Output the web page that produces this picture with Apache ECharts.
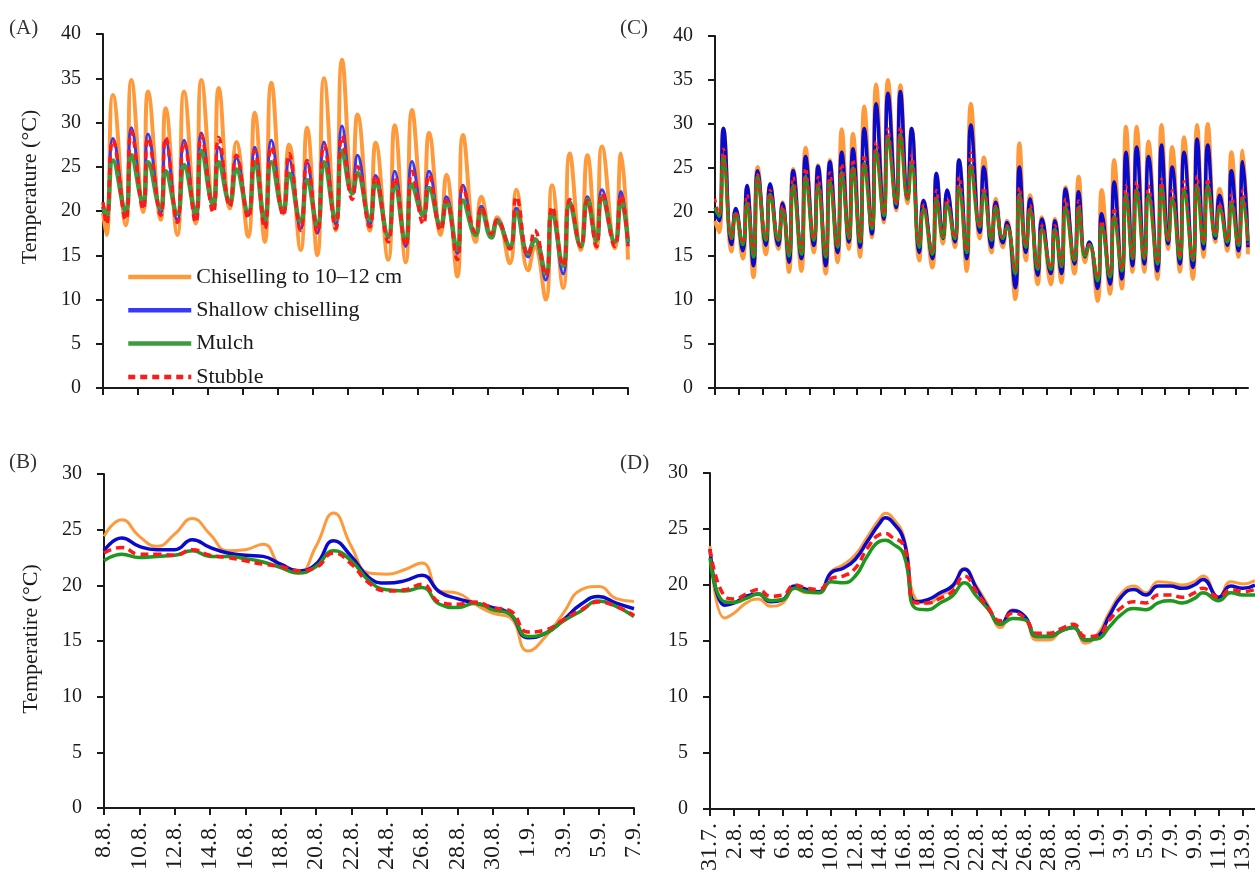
<!DOCTYPE html>
<html>
<head>
<meta charset="utf-8">
<title>Soil temperature under four tillage treatments</title>
<script src="https://cdn.jsdelivr.net/npm/echarts@6/dist/echarts.min.js"></script>
<style>
  html, body { margin: 0; padding: 0; background: #fff; }
  #chart { width: 1255px; height: 879px; }
</style>
</head>
<body>
<div id="chart"></div>
<script>
const names = ['Chiselling to 10–12 cm', 'Shallow chiselling', 'Mulch', 'Stubble'];

// (A) diurnal course, days after 8.8. (daily minima and maxima)
const aTime = [0,
  0.2, 0.57, 1.3, 1.62, 2.3, 2.57, 3.3, 3.58, 4.25, 4.63,
  5.3, 5.62, 6.3, 6.61, 7.25, 7.62, 8.3, 8.67, 9.25, 9.62,
  10.3, 10.63, 11.3, 11.66, 12.25, 12.63, 13.3, 13.66, 14.25, 14.54,
  15.25, 15.58, 16.3, 16.67, 17.3, 17.66, 18.3, 18.63, 19.3, 19.62,
  20.25, 20.57, 21.3, 21.62, 22.2, 22.52, 23.25, 23.62, 24.3, 24.67,
  25.3, 25.66, 26.3, 26.67, 27.3, 27.68, 28.2, 28.51, 29.25, 29.6,
  30];
const aChisel = [19.8,
  17.3, 33.1, 18.4, 34.8, 19.9, 33.5, 19.0, 31.6, 17.3, 33.5,
  18.6, 34.8, 20.5, 33.9, 20.3, 27.8, 17.1, 31.1, 16.5, 34.5,
  19.7, 27.5, 15.6, 29.4, 15.0, 35.0, 17.8, 37.1, 22.6, 30.9,
  17.8, 27.7, 14.5, 29.7, 14.2, 31.4, 19.5, 28.8, 17.3, 24.1,
  12.6, 28.6, 16.5, 21.6, 17.3, 19.3, 14.1, 22.4, 13.3, 16.0,
  10.0, 22.9, 11.3, 26.5, 15.6, 26.3, 15.8, 27.3, 15.8, 26.5,
  14.5];
const aShallow = [20.3,
  19, 28.2, 19.7, 29.4, 20.5, 28.7, 19.8, 28, 18.9, 28,
  19.2, 28.8, 21, 27.2, 20.8, 26, 19.5, 27.2, 18.5, 28,
  19.8, 25.8, 18, 25.5, 17.5, 27.8, 18.5, 29.6, 22, 26.3,
  18.5, 24, 17, 24.5, 16, 25.6, 19.5, 24.5, 18.3, 21.6,
  15.2, 22.9, 17.3, 20.5, 17, 19, 16, 20.3, 14.8, 16.7,
  12.2, 19.8, 12.9, 21.1, 16, 21.6, 16.7, 22.4, 16.5, 22.2,
  16.3];
const aMulch = [20.5,
  19.5, 25.7, 20, 26.3, 21, 25.5, 20.3, 24.5, 19.7, 25.2,
  19.8, 26.8, 20.7, 25.5, 21, 24.7, 19.8, 25.5, 19, 25.5,
  20, 24.2, 18.8, 23.5, 18.3, 25.5, 19, 26.8, 22, 24.3,
  19, 23.2, 17.2, 23, 16.5, 23, 19.5, 22.6, 18.3, 21,
  15.6, 21.2, 17.3, 20.1, 17, 18.8, 16, 19.9, 15.2, 16.8,
  12.9, 19.9, 13.8, 20.9, 16, 21.3, 16.7, 21.6, 16.5, 21.3,
  16.5];
const aStubble = [21,
  18.5, 28, 19, 29, 20.2, 28.3, 19.5, 28.3, 18.7, 27.8,
  18.7, 28.6, 19.8, 28.3, 20.5, 26.3, 19.2, 26.8, 18, 27.3,
  19.5, 26.5, 17.8, 25.7, 17.5, 27.5, 18, 28.5, 21.3, 25,
  18.2, 24, 16.5, 23.8, 16, 24.5, 18.5, 24.1, 17.8, 21.2,
  14.5, 22.7, 17.6, 20.5, 17.4, 19, 15.7, 21.6, 15, 17.8,
  12.7, 20.5, 13.8, 21.3, 16, 21.2, 16, 22, 16, 21.8,
  16];

// (B) daily means, days after 8.8.
const bDays = [0, 1, 2, 3, 4, 5, 6, 7, 8, 9, 10, 11, 12, 13, 14, 15, 16, 17, 18, 19, 20, 21, 22, 23, 24, 25, 26, 27, 28, 29, 30];
const bChisel = [24.4, 25.9, 24.4, 23.5, 24.6, 26, 24.6, 23.1, 23.2, 23.7, 21.7, 21.1, 23.5, 26.5, 23.5, 21.1, 21, 21.4, 22, 19.5, 19.3, 18.3, 17.5, 17.1, 14.1, 15.4, 17.5, 19.6, 19.9, 18.8, 18.55];
const bShallow = [23.1, 24.25, 23.5, 23.2, 23.2, 24.1, 23.4, 22.9, 22.7, 22.6, 21.9, 21.3, 21.9, 24, 22.6, 20.7, 20.2, 20.4, 20.9, 19.4, 18.8, 18.4, 18, 17.4, 15.3, 15.7, 16.9, 18.3, 19, 18.4, 17.9];
const bMulch = [22.2, 22.8, 22.5, 22.6, 22.7, 23.1, 22.6, 22.6, 22.4, 22.1, 21.6, 21.1, 21.7, 23.1, 22.2, 20.4, 19.6, 19.5, 19.8, 18.3, 18, 18.4, 17.8, 17.4, 15.4, 15.7, 16.8, 17.7, 18.6, 18.1, 17.2];
const bStubble = [22.9, 23.4, 22.8, 22.8, 22.7, 23.2, 22.7, 22.5, 22.2, 21.9, 21.7, 21.3, 21.6, 22.9, 21.9, 20.2, 19.5, 19.6, 20.1, 18.5, 18.3, 18.5, 18, 17.7, 15.8, 16, 16.9, 17.8, 18.5, 18.1, 17.3];
const bLabels = ['8.8.', '10.8.', '12.8.', '14.8.', '16.8.', '18.8.', '20.8.', '22.8.', '24.8.', '26.8.', '28.8.', '30.8.', '1.9.', '3.9.', '5.9.', '7.9.'];

// (C) diurnal course, days after 31.7. (daily minima and maxima)
const cTime = [0,
  0.35, 0.71, 1.4, 1.75, 2.35, 2.7, 3.25, 3.6, 4.3, 4.65,
  5.35, 5.7, 6.25, 6.6, 7.3, 7.65, 8.35, 8.7, 9.35, 9.7,
  10.35, 10.7, 11.3, 11.65, 12.25, 12.6, 13.25, 13.6, 14.25, 14.6,
  15.3, 15.65, 16.25, 16.6, 17.25, 17.6, 18.35, 18.7, 19.25, 19.6,
  20.25, 20.6, 21.25, 21.6, 22.35, 22.7, 23.35, 23.7, 24.3, 24.65,
  25.35, 25.7, 26.25, 26.6, 27.25, 27.6, 28.35, 28.7, 29.25, 29.6,
  30.35, 30.7, 31.25, 31.6, 32.3, 32.65, 33.35, 33.7, 34.35, 34.7,
  35.25, 35.6, 36.25, 36.6, 37.35, 37.7, 38.25, 38.6, 39.25, 39.6,
  40.35, 40.7, 41.25, 41.6, 42.25, 42.6, 43.25, 43.6, 44.2, 44.55,
  45];
const cChisel = [19,
  17.7, 29.5, 15.5, 20.3, 14.7, 22.8, 12.6, 25.1, 15.2, 23,
  15.8, 21.1, 13.2, 24.9, 13.3, 27.3, 15.4, 25.3, 13, 25.9,
  14.3, 29.4, 15.8, 28.9, 14.9, 32, 17.1, 34.5, 18.8, 35,
  20.2, 34.4, 21, 29.5, 14.5, 21.3, 13.7, 24.3, 16.4, 22.3,
  16, 25.9, 13.3, 32.3, 17, 26.2, 15.4, 21.5, 16, 19,
  10.1, 27.8, 14.5, 21.9, 11.8, 19.4, 11.8, 19.2, 12, 22.8,
  13, 24, 14.3, 16.5, 9.9, 22.5, 10.7, 25.9, 11.3, 29.7,
  13.2, 29.7, 13.2, 28, 12.4, 29.9, 15.8, 27.4, 13.2, 28.5,
  12.4, 29.9, 14.9, 30, 16.6, 22.6, 15.6, 26.8, 14.9, 27,
  15.2];
const cShallow = [20,
  19, 29.5, 16.3, 20.4, 15.6, 23, 13.9, 24.7, 16.2, 23.2,
  16.2, 21, 14.3, 24.7, 14.7, 26.3, 16.2, 25.2, 13.9, 25.7,
  15.4, 26.8, 16.6, 27.2, 16, 29.5, 17.5, 32.3, 19.2, 33.5,
  20.5, 33.7, 21.5, 29.5, 15.4, 21.3, 14.7, 24.4, 17, 22.5,
  16.6, 25.9, 14.7, 29.9, 17.7, 25.1, 16, 21.1, 16.5, 18.8,
  11.4, 25.1, 15.4, 21.5, 12.8, 19.2, 13, 19, 13, 22.6,
  14.1, 22.3, 14.9, 16.6, 11.3, 19.8, 11.8, 23.4, 12.4, 26.8,
  13.9, 27.4, 14.1, 26.3, 13.3, 27.6, 16.4, 25.1, 14.1, 26.8,
  13.7, 28.3, 15.8, 27.6, 17, 21.9, 16.2, 24.7, 15.6, 25.7,
  16];
const cMulch = [20.5,
  19.5, 26.3, 17, 19.8, 16.3, 21, 14.9, 24, 16.8, 22,
  16.8, 20.3, 15, 23, 15.2, 24, 16.8, 23, 14.9, 23.5,
  16, 24.5, 17, 25, 16.6, 25.5, 18.1, 27, 19.6, 28.5,
  20.9, 28.8, 21.5, 25.5, 16, 20.3, 15.2, 21.5, 17.1, 20.8,
  17, 22.8, 15.4, 25.3, 18.3, 22.1, 16.8, 20.5, 17, 18.3,
  13, 22, 16, 20.3, 13.5, 18, 13.5, 18, 13.8, 20.5,
  14.5, 20.5, 15, 16.3, 12.2, 18.5, 12.6, 19.5, 13.3, 22,
  14.7, 22.5, 14.7, 22, 14.1, 23, 16.8, 21.5, 14.7, 22.5,
  14.5, 23, 16.4, 23, 17.3, 20.5, 16.6, 21, 16.2, 21.5,
  16.7];
const cStubble = [21.5,
  19.8, 27.2, 17, 20, 16.5, 22, 15.4, 24.3, 17.1, 22.5,
  17, 20.7, 15.4, 24, 15.6, 25, 17, 24, 15.2, 24.5,
  16.2, 25.5, 17.2, 26, 16.8, 26.5, 18.3, 28, 19.8, 29.5,
  20.9, 29.7, 21.5, 26.5, 16.4, 20.8, 15.4, 22.5, 17.3, 21.5,
  17.1, 24, 15.6, 26.8, 18.3, 22.8, 17, 20.7, 17.1, 18.5,
  13.3, 22.8, 16.2, 20.8, 13.7, 18.5, 13.7, 18.5, 14, 21.5,
  14.7, 21.3, 15.3, 16.3, 12.6, 19, 13, 20.5, 13.5, 23,
  14.9, 23.5, 14.9, 23, 14.3, 23.8, 16.8, 22.5, 14.9, 23.5,
  14.7, 24.1, 16.6, 23.8, 17.5, 21, 16.8, 22, 16.4, 22.5,
  16.3];

// (D) daily means, days after 31.7.
const dDays = [0, 1.2, 2, 3, 4, 5, 6, 7, 8, 9, 10, 11, 12, 13, 14, 14.5, 15, 16, 17, 18, 19, 20, 21, 22, 23, 24, 25, 26, 27, 28, 29, 30, 31, 32, 33, 34, 35, 36, 37, 38, 39, 40, 40.7, 42, 43, 44, 45];
const dChisel = [23.5, 17.05, 17.5, 18.4, 18.75, 18.1, 18.4, 19.7, 19.3, 19.3, 21.2, 21.8, 22.7, 24.3, 25.9, 26.4, 26.1, 24.3, 18.7, 18.4, 19.1, 19.7, 21.5, 19.9, 18.1, 16.2, 17.8, 17.05, 15.1, 15.1, 15.9, 16.3, 14.8, 15.6, 17.6, 19.3, 19.9, 19.3, 20.3, 20.2, 20, 20.3, 20.8, 18.9, 20.3, 20.1, 20.4];
const dShallow = [23.2, 18.2, 18.4, 19, 19.2, 18.5, 18.7, 19.9, 19.6, 19.4, 21.1, 21.5, 22.3, 23.9, 25.5, 26, 25.7, 24, 18.5, 18.7, 19.3, 19.9, 21.4, 19.7, 17.9, 16.5, 17.7, 17.2, 15.4, 15.4, 15.9, 16.2, 15.1, 15.4, 17.3, 19, 19.6, 19.1, 19.9, 19.9, 19.7, 20, 20.5, 18.9, 19.9, 19.7, 20];
const dMulch = [22.4, 18.5, 18.45, 18.8, 19.2, 18.6, 18.7, 19.7, 19.4, 19.3, 20.3, 20.2, 20.8, 22.6, 23.9, 24, 23.75, 22.7, 17.9, 17.8, 18.4, 19, 20.2, 19, 17.8, 16.5, 17, 16.9, 15.4, 15.4, 15.9, 16.2, 15.1, 15.2, 16.3, 17.4, 17.9, 17.8, 18.4, 18.6, 18.4, 18.8, 19.3, 18.6, 19.3, 19.1, 19.1];
const dStubble = [23.2, 19, 18.75, 19.2, 19.6, 19, 19.1, 20, 19.7, 19.6, 20.6, 20.8, 21.5, 23.3, 24.5, 24.6, 24.3, 23.5, 18.4, 18.4, 18.8, 19.4, 20.8, 19.4, 17.9, 16.8, 17.5, 17.05, 15.7, 15.7, 16.1, 16.5, 15.4, 15.5, 16.9, 18, 18.5, 18.4, 19.1, 19.1, 18.9, 19.3, 19.7, 18.9, 19.6, 19.4, 19.6];
const dLabels = ['31.7.', '2.8.', '4.8.', '6.8.', '8.8.', '10.8.', '12.8.', '14.8.', '16.8.', '18.8.', '20.8.', '22.8.', '24.8.', '26.8.', '28.8.', '30.8.', '1.9.', '3.9.', '5.9.', '7.9.', '9.9.', '11.9.', '13.9.'];

const SERIF = '"Liberation Serif", "Times New Roman", serif';
const INK = '#1a1a1a';

const chart = echarts.init(document.getElementById('chart'));

function pairs(t, v) { return t.map((x, i) => [x, v[i]]); }

// line looks per panel: chiselling, shallow, mulch, stubble
const looks = [
  [{ color: '#FF9A3C', width: 4 }, { color: '#3838F5', width: 3 }, { color: '#3C9B3C', width: 4.5 }, { color: '#FF1A1A', width: 3.5, type: [7, 5] }],
  [{ color: '#FF9A3C', width: 3 }, { color: '#0A0ACC', width: 3.5 }, { color: '#1E971E', width: 3.5 }, { color: '#FF1A1A', width: 3.5, type: [8, 5] }],
  [{ color: '#FF9A3C', width: 4 }, { color: '#0A0ACC', width: 3.5 }, { color: '#1E971E', width: 3.5 }, { color: '#FF1A1A', width: 2.5, type: [4, 4] }],
  [{ color: '#FF9A3C', width: 3 }, { color: '#0A0ACC', width: 3.5 }, { color: '#1E971E', width: 3.5 }, { color: '#FF1A1A', width: 3.5, type: [8, 5] }]
];
const panels = [
  { time: aTime, values: [aChisel, aShallow, aMulch, aStubble] },
  { time: bDays, values: [bChisel, bShallow, bMulch, bStubble] },
  { time: cTime, values: [cChisel, cShallow, cMulch, cStubble] },
  { time: dDays, values: [dChisel, dShallow, dMulch, dStubble] }
];

const series = [];
panels.forEach((p, k) => {
  p.values.forEach((vals, i) => {
    series.push({
      name: names[i],
      type: 'line',
      xAxisIndex: k,
      yAxisIndex: k,
      data: pairs(p.time, vals),
      smooth: 0.5,
      symbol: 'none',
      z: 2 + i,
      lineStyle: looks[k][i],
      itemStyle: { color: looks[k][i].color },
      emphasis: { disabled: true }
    });
  });
});

const axisLine = { show: true, lineStyle: { color: INK, width: 2 } };
const axisTick = { show: true, length: 7, lineStyle: { color: INK, width: 2 } };
const bTicks = bLabels.map((_, i) => i * 2);
const dTicks = dLabels.map((_, i) => i * 2);

function xAxis(k, max, ticks, labels) {
  return {
    type: 'value', gridIndex: k, min: 0, max: max,
    axisLine: axisLine,
    axisTick: Object.assign({ customValues: ticks }, axisTick),
    splitLine: { show: false },
    axisLabel: labels ? {
      show: true, customValues: ticks, rotate: 90, margin: 14,
      fontFamily: SERIF, fontSize: 24, color: INK,
      formatter: v => labels[Math.round(v / 2)]
    } : { show: false }
  };
}
function yAxis(k, max) {
  return {
    type: 'value', gridIndex: k, min: 0, max: max, interval: 5,
    axisLine: axisLine, axisTick: axisTick,
    splitLine: { show: false },
    axisLabel: { margin: 22, fontFamily: SERIF, fontSize: 20, color: INK }
  };
}

function label(text, x, y) {
  return { type: 'text', x: x, y: y, style: { text: text, font: '21px ' + SERIF, fill: '#333', verticalAlign: 'middle' } };
}
function yTitle(text, x, y) {
  return { type: 'text', x: x, y: y, rotation: Math.PI / 2,
    style: { text: text, font: '22px ' + SERIF, fill: INK, align: 'center', verticalAlign: 'middle' } };
}

chart.setOption({
  backgroundColor: '#fff',
  animation: false,
  grid: [
    { left: 103, top: 34, width: 525, height: 354 },
    { left: 104, top: 474, width: 530, height: 334 },
    { left: 715, top: 36, width: 533, height: 352 },
    { left: 710, top: 473, width: 545, height: 336 }
  ],
  xAxis: [
    xAxis(0, 30, bTicks, null),
    xAxis(1, 30, bTicks, bLabels),
    xAxis(2, 45, dTicks, null),
    xAxis(3, 45, dTicks, dLabels)
  ],
  yAxis: [yAxis(0, 40), yAxis(1, 30), yAxis(2, 40), yAxis(3, 30)],
  legend: {
    data: names,
    orient: 'vertical',
    left: 126,
    top: 265,
    padding: 0,
    itemWidth: 63,
    itemHeight: 14,
    itemGap: 9.3,
    selectedMode: false,
    itemStyle: { opacity: 0 },
    lineStyle: { width: 4.5 },
    textStyle: { fontFamily: SERIF, fontSize: 22, color: INK, lineHeight: 24 }
  },
  graphic: [
    label('(A)', 9, 28),
    label('(B)', 9, 462),
    label('(C)', 620, 28),
    label('(D)', 620, 463),
    yTitle('Temperature (°C)', 30, 187),
    yTitle('Temperatire (°C)', 31, 639)
  ],
  series: series
});
</script>
</body>
</html>
